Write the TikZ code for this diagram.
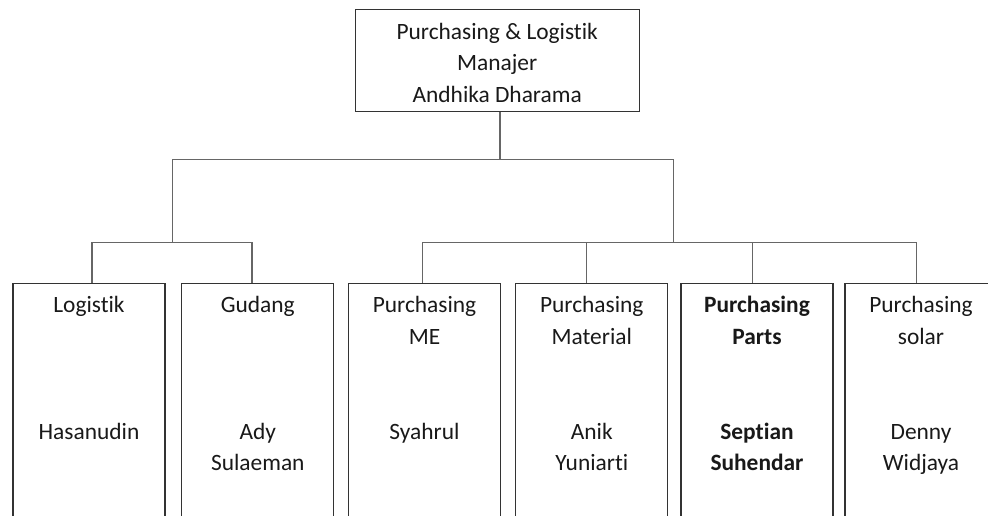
\documentclass[tikz,border=0pt]{standalone}
\usepackage{fontspec}
\setmainfont{Carlito}[Ligatures={NoCommon,NoContextual}]
\begin{document}
\begin{tikzpicture}[x=1pt,y=-1pt,
  font=\fontsize{23.4}{31.5}\selectfont,
  topbox/.style={draw=black!80,line width=1.1pt,rectangle,inner sep=0pt,minimum width=284.3pt,minimum height=101.4pt,anchor=north},
  unitbox/.style={draw=black!80,line width=1.1pt,rectangle,inner sep=0pt,minimum width=152pt,minimum height=300pt,anchor=north},
  conn/.style={draw=black!60,line width=1.1pt},
  txt/.style={anchor=base,inner sep=0pt,text=black!90},
  btxt/.style={txt,font=\fontsize{23.4}{31.5}\selectfont\bfseries}
]
\useasboundingbox (0,0) rectangle (988,515);
\clip (0,0) rectangle (988,515);
\fill[white] (0,0) rectangle (988,515);

% boxes
\node[topbox] (top) at (497.2,9.3) {};
\node[unitbox] (b1) at (89,282.7) {};
\node[unitbox] (b2) at (257.8,282.7) {};
\node[unitbox] (b3) at (424.5,282.7) {};
\node[unitbox] (b4) at (591.8,282.7) {};
\node[unitbox] (b5) at (757,282.7) {};
\node[unitbox] (b6) at (921,282.7) {};

% texts
\node[txt] (t0a) at (497.2,39) {Purchasing \& Logistik};
\node[txt] (t0b) at (497.2,70.5) {Manajer};
\node[txt] (t0c) at (497.2,102) {Andhika Dharama};

\node[txt] (t1a) at (89,312.7) {Logistik};
\node[txt] (t1c) at (89,439.3) {Hasanudin};

\node[txt] (t2a) at (257.8,312.7) {Gudang};
\node[txt] (t2c) at (257.8,439.3) {Ady};
\node[txt] (t2d) at (257.8,470.8) {Sulaeman};

\node[txt] (t3a) at (424.5,312.7) {Purchasing};
\node[txt] (t3b) at (424.5,344.2) {ME};
\node[txt] (t3c) at (424.5,439.3) {Syahrul};

\node[txt] (t4a) at (591.8,312.7) {Purchasing};
\node[txt] (t4b) at (591.8,344.2) {Material};
\node[txt] (t4c) at (591.8,439.3) {Anik};
\node[txt] (t4d) at (591.8,470.8) {Yuniarti};

\node[btxt] (t5a) at (757,312.7) {Purchasing};
\node[btxt] (t5b) at (757,344.2) {Parts};
\node[btxt] (t5c) at (757,439.3) {Septian};
\node[btxt] (t5d) at (757,470.8) {Suhendar};

\node[txt] (t6a) at (921,312.7) {Purchasing};
\node[txt] (t6b) at (921,344.2) {solar};
\node[txt] (t6c) at (921,439.3) {Denny};
\node[txt] (t6d) at (921,470.8) {Widjaya};

% junctions
\coordinate (jA) at (172.7,159.3);
\coordinate (jB) at (673.3,159.3);
\coordinate (jC) at (172.7,242.7);
\coordinate (jD) at (673.3,242.7);

% connectors
\draw[conn] ([xshift=2.8pt]top.south) -- ([xshift=2.8pt]top.south |- jA);
\draw[conn] (jA) -- (jB);
\draw[conn] (jA) -- (jC);
\draw[conn] (jB) -- (jD);
\draw[conn] ([xshift=3pt]b1.north) |- (jC) -| ([xshift=-5.8pt]b2.north);
\draw[conn] ([xshift=-1.8pt]b3.north) |- (jD) -| ([xshift=-4.3pt]b6.north);
\draw[conn] ([xshift=-5.1pt]b4.north) -- ([xshift=-5.1pt]b4.north |- jD);
\draw[conn] ([xshift=-4.3pt]b5.north) -- ([xshift=-4.3pt]b5.north |- jD);
\end{tikzpicture}
\end{document}
